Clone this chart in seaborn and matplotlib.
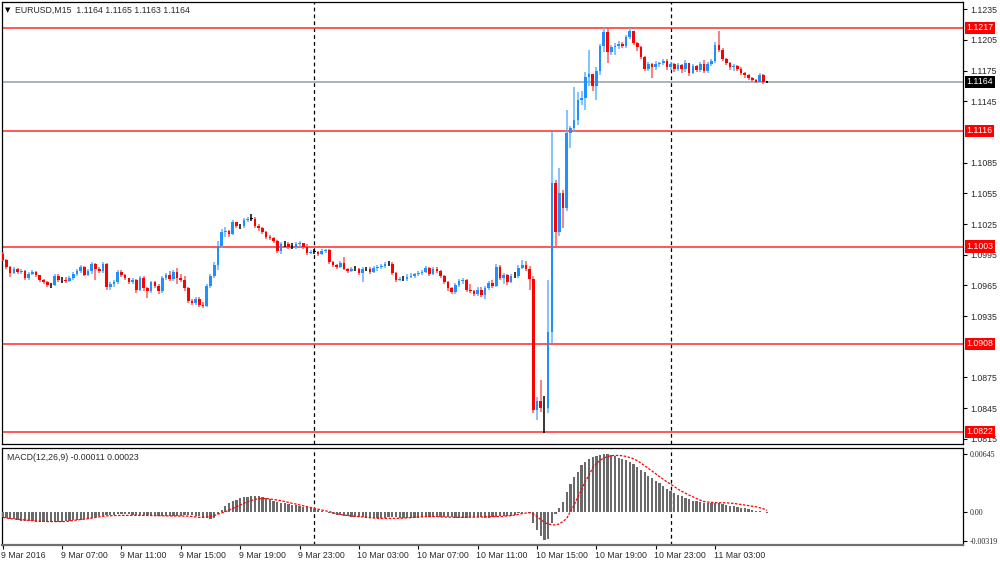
import seaborn as sns
import pandas as pd
import numpy as np
import matplotlib.pyplot as plt
import matplotlib.transforms as mtransforms

# EURUSD M15 candles, 9 Mar 03:00 -> 11 Mar 06:30
first_open = 1.0996
closes = [
    1.0990, 1.0983, 1.0977, 1.0981, 1.0978, 1.0979, 1.0972, 1.0976, 1.0978, 1.0975,
    1.0970, 1.0968, 1.0965, 1.0965, 1.0974, 1.0970, 1.0970, 1.0969, 1.0972, 1.0976,
    1.0979, 1.0983, 1.0975, 1.0979, 1.0986, 1.0981, 1.0979, 1.0986, 1.0963, 1.0966,
    1.0968, 1.0978, 1.0975, 1.0972, 1.0968, 1.0970, 1.0961, 1.0972, 1.0962, 1.0960,
    1.0968, 1.0964, 1.0960, 1.0972, 1.0975, 1.0971, 1.0978, 1.0972, 1.0970, 1.0962,
    1.0950, 1.0948, 1.0952, 1.0946, 1.0945, 1.0964, 1.0974, 1.0985, 1.1004, 1.1017,
    1.1018, 1.1015, 1.1027, 1.1023, 1.1023, 1.1029, 1.1030, 1.1030, 1.1023, 1.1021,
    1.1017, 1.1012, 1.1011, 1.1008, 1.0999, 1.1005, 1.1005, 1.1003, 1.1003, 1.1005,
    1.1006, 1.1003, 1.0997, 1.0998, 1.0998, 1.0996, 1.0999, 1.1000, 1.0988, 1.0985,
    1.0983, 1.0987, 1.0981, 1.0979, 1.0981, 1.0981, 1.0977, 1.0981, 1.0981, 1.0978,
    1.0982, 1.0983, 1.0984, 1.0986, 1.0986, 1.0977, 1.0970, 1.0971, 1.0971, 1.0973,
    1.0974, 1.0976, 1.0977, 1.0978, 1.0982, 1.0976, 1.0981, 1.0979, 1.0974, 1.0968,
    1.0962, 1.0959, 1.0965, 1.0969, 1.0970, 1.0961, 1.0960, 1.0957, 1.0961, 1.0956,
    1.0962, 1.0967, 1.0964, 1.0983, 1.0972, 1.0975, 1.0968, 1.0974, 1.0974, 1.0982,
    1.0985, 1.0981, 1.0971, 1.0843, 1.0852, 1.0845, 1.0845, 1.0919, 1.1065, 1.1017,
    1.1055, 1.1041, 1.1114, 1.1119, 1.1127, 1.1146, 1.1148, 1.1169, 1.1172, 1.1160,
    1.1175, 1.1199, 1.1213, 1.1193, 1.1198, 1.1199, 1.1201, 1.1199, 1.1208, 1.1214,
    1.1202, 1.1198, 1.1188, 1.1177, 1.1181, 1.1178, 1.1181, 1.1182, 1.1184, 1.1178,
    1.1181, 1.1177, 1.1180, 1.1177, 1.1182, 1.1173, 1.1179, 1.1176, 1.1181, 1.1175,
    1.1181, 1.1184, 1.1200, 1.1195, 1.1186, 1.1182, 1.1178, 1.1179, 1.1177, 1.1173,
    1.1171, 1.1168, 1.1166, 1.1164, 1.1171, 1.1164, 1.1164,
]
highs = [
    1.0998, 1.0991, 1.0984, 1.0983, 1.0982, 1.0981, 1.0980, 1.0978, 1.0980, 1.0979,
    1.0975, 1.0971, 1.0969, 1.0967, 1.0976, 1.0976, 1.0973, 1.0973, 1.0974, 1.0978,
    1.0981, 1.0985, 1.0984, 1.0981, 1.0988, 1.0987, 1.0983, 1.0988, 1.0987, 1.0968,
    1.0970, 1.0980, 1.0980, 1.0976, 1.0972, 1.0972, 1.0971, 1.0974, 1.0974, 1.0963,
    1.0969, 1.0969, 1.0966, 1.0974, 1.0977, 1.0979, 1.0980, 1.0982, 1.0976, 1.0974,
    1.0963, 1.0952, 1.0954, 1.0954, 1.0949, 1.0966, 1.0976, 1.0988, 1.1008, 1.1020,
    1.1022, 1.1019, 1.1029, 1.1027, 1.1025, 1.1031, 1.1032, 1.1035, 1.1032, 1.1025,
    1.1022, 1.1018, 1.1014, 1.1012, 1.1009, 1.1007, 1.1008, 1.1007, 1.1006, 1.1007,
    1.1008, 1.1005, 1.1005, 1.1000, 1.1001, 1.0999, 1.1001, 1.1001, 1.1001, 1.0989,
    1.0986, 1.0989, 1.0993, 1.0982, 1.0983, 1.0984, 1.0982, 1.0983, 1.0983, 1.0983,
    1.0984, 1.0985, 1.0986, 1.0988, 1.0989, 1.0988, 1.0978, 1.0973, 1.0974, 1.0976,
    1.0977, 1.0977, 1.0979, 1.0980, 1.0984, 1.0983, 1.0983, 1.0983, 1.0980, 1.0975,
    1.0969, 1.0963, 1.0967, 1.0971, 1.0972, 1.0971, 1.0966, 1.0961, 1.0963, 1.0963,
    1.0964, 1.0969, 1.0970, 1.0986, 1.0985, 1.0977, 1.0976, 1.0976, 1.0978, 1.0985,
    1.0990, 1.0989, 1.0984, 1.0974, 1.0856, 1.0873, 1.0857, 1.0970, 1.1115, 1.1068,
    1.1080, 1.1058, 1.1136, 1.1121, 1.1159, 1.1154, 1.1155, 1.1174, 1.1195, 1.1172,
    1.1178, 1.1201, 1.1218, 1.1218, 1.1200, 1.1202, 1.1204, 1.1203, 1.1210, 1.1217,
    1.1214, 1.1203, 1.1199, 1.1189, 1.1183, 1.1182, 1.1184, 1.1183, 1.1186, 1.1186,
    1.1183, 1.1182, 1.1182, 1.1181, 1.1185, 1.1178, 1.1181, 1.1180, 1.1183, 1.1185,
    1.1183, 1.1186, 1.1203, 1.1214, 1.1197, 1.1187, 1.1183, 1.1181, 1.1180, 1.1178,
    1.1174, 1.1172, 1.1169, 1.1167, 1.1173, 1.1172, 1.1165,
]
lows = [
    1.0989, 1.0981, 1.0973, 1.0976, 1.0976, 1.0976, 1.0970, 1.0970, 1.0975, 1.0973,
    1.0968, 1.0966, 1.0963, 1.0962, 1.0964, 1.0968, 1.0967, 1.0967, 1.0968, 1.0970,
    1.0974, 1.0977, 1.0974, 1.0974, 1.0976, 1.0970, 1.0977, 1.0977, 1.0961, 1.0961,
    1.0963, 1.0966, 1.0973, 1.0970, 1.0966, 1.0966, 1.0958, 1.0960, 1.0960, 1.0953,
    1.0958, 1.0962, 1.0957, 1.0958, 1.0970, 1.0969, 1.0969, 1.0966, 1.0968, 1.0960,
    1.0948, 1.0946, 1.0946, 1.0944, 1.0943, 1.0944, 1.0962, 1.0972, 1.0980, 1.1002,
    1.1012, 1.1012, 1.1014, 1.1021, 1.1020, 1.1021, 1.1027, 1.1028, 1.1021, 1.1018,
    1.1015, 1.1010, 1.1009, 1.1006, 1.0997, 1.0996, 1.1003, 1.1001, 1.1001, 1.1001,
    1.1003, 1.1001, 1.0995, 1.0996, 1.0996, 1.0994, 1.0995, 1.0997, 1.0986, 1.0983,
    1.0981, 1.0982, 1.0980, 1.0977, 1.0978, 1.0979, 1.0975, 1.0968, 1.0979, 1.0976,
    1.0977, 1.0979, 1.0981, 1.0982, 1.0984, 1.0975, 1.0968, 1.0969, 1.0969, 1.0969,
    1.0972, 1.0972, 1.0974, 1.0975, 1.0977, 1.0974, 1.0975, 1.0977, 1.0972, 1.0966,
    1.0960, 1.0957, 1.0957, 1.0963, 1.0966, 1.0959, 1.0958, 1.0955, 1.0955, 1.0954,
    1.0952, 1.0961, 1.0962, 1.0963, 1.0970, 1.0966, 1.0965, 1.0967, 1.0972, 1.0972,
    1.0981, 1.0979, 1.0961, 1.0840, 1.0833, 1.0841, 1.0821, 1.0840, 1.0909, 1.1003,
    1.1013, 1.1021, 1.1038, 1.1099, 1.1115, 1.1122, 1.1141, 1.1136, 1.1160, 1.1155,
    1.1146, 1.1171, 1.1193, 1.1182, 1.1190, 1.1190, 1.1196, 1.1197, 1.1197, 1.1206,
    1.1200, 1.1194, 1.1186, 1.1175, 1.1175, 1.1168, 1.1176, 1.1178, 1.1180, 1.1176,
    1.1176, 1.1174, 1.1175, 1.1173, 1.1174, 1.1170, 1.1172, 1.1174, 1.1174, 1.1173,
    1.1173, 1.1179, 1.1182, 1.1193, 1.1184, 1.1180, 1.1176, 1.1175, 1.1175, 1.1171,
    1.1168, 1.1166, 1.1164, 1.1163, 1.1164, 1.1162, 1.1163,
]

# MACD(12,26,9): histogram and signal, in units of 1e-5
macd_main = [
    -55, -62, -70, -78, -85, -90, -95, -98, -100, -102, -104, -105, -106, -106, -105, -104, -103, -100,
    -92, -88, -84, -80, -75, -68, -60, -52, -45, -38,
    -30, -28, -25, -22, -20, -20, -22, -24, -25, -26, -28,
    -32, -34, -36, -38, -38, -40, -40, -38, -36, -35,
    -33, -30, -32, -38, -45, -55, -65, -70, -60, -20,
    30, 70, 100, 125, 140, 155, 165, 172, 180, 183, 180, 175,
    160, 145, 130, 115, 105, 98, 92, 85, 78, 70, 62, 55, 45, 35,
    25, 15, 5, -5, -15,
    -25, -32, -38, -42, -46, -50, -52, -55, -58, -58, -60, -60, -58, -58, -56, -55, -55,
    -58, -60, -62, -62, -60, -58, -56, -55, -55,
    -56, -55, -54, -54, -55, -56, -58, -60, -60, -58,
    -56, -55, -55, -56, -57, -58, -56, -52, -45, -40,
    -38, -35, -30, -10, -3, 5, -5,
    -113, -200, -265, -305, -290, -120, -18,
    45, 115, 225, 315, 385, 450, 520, 560, 590, 610,
    625, 638, 645, 640, 628, 618, 605, 592, 578, 555,
    528, 495, 465, 440, 405, 375, 350, 320, 290, 262,
    240, 215, 196, 178, 158, 145, 130, 120, 110, 100,
    105, 105, 105, 100, 92, 85, 75, 68, 58, 52,
    45, 38, 25, 18, 10, 3, -11,
]
macd_signal = [
    -55, -62, -69, -73, -77, -82, -86, -90, -93, -96,
    -98, -100, -101, -102, -102, -102, -102, -101, -96, -90,
    -84, -80, -75, -70, -63, -56, -48, -43, -39, -37,
    -35, -34, -33, -33, -33, -33, -33, -33, -33, -34,
    -35, -36, -37, -38, -39, -40, -40, -40, -40, -40,
    -41, -45, -50, -55, -55, -52, -45, -35, -20, -6,
    6, 25, 44, 62, 80, 100, 117, 132, 142, 150,
    153, 153, 148, 142, 136, 128, 120, 110, 100, 92,
    82, 73, 63, 53, 44, 35, 25, 16, 8, -4,
    -14, -24, -30, -35, -40, -43, -46, -50, -55, -58,
    -62, -66, -66, -66, -66, -66, -66, -66, -63, -60,
    -57, -54, -51, -49, -47, -47, -47, -48, -50, -52,
    -53, -54, -55, -55, -55, -55, -54, -53, -52, -51,
    -50, -49, -48, -47, -47, -44, -40, -35, -30, -22,
    -14, -8, -4, -18, -45, -80, -110, -128, -138, -138,
    -128, -100, -66, 10, 80, 170, 250, 340, 410, 490,
    540, 573, 600, 615, 625, 628, 628, 624, 617, 605,
    591, 570, 545, 515, 485, 455, 425, 395, 365, 336,
    310, 285, 255, 232, 212, 190, 172, 152, 135, 120,
    114, 110, 108, 106, 106, 105, 102, 99, 93, 87,
    81, 76, 70, 62, 51, 40, 23,
]

time_ticks = [0, 16, 32, 48, 64, 80, 96, 112, 128, 144, 160, 176, 192]
time_labels = ["9 Mar 2016", "9 Mar 07:00", "9 Mar 11:00", "9 Mar 15:00", "9 Mar 19:00",
               "9 Mar 23:00", "10 Mar 03:00", "10 Mar 07:00", "10 Mar 11:00",
               "10 Mar 15:00", "10 Mar 19:00", "10 Mar 23:00", "11 Mar 03:00"]
day_breaks = [84, 180]
price_ticks = [1.1235, 1.1205, 1.1175, 1.1145, 1.1085, 1.1055, 1.1025,
               1.0995, 1.0965, 1.0935, 1.0875, 1.0845, 1.0815]
levels = [1.1217, 1.1116, 1.1003, 1.0908, 1.0822]
bid = 1.1164
macd_ticks = [0.00645, 0.0, -0.00319]
macd_tick_labels = ["0.00645", "0.00", "-0.00319"]

assert len(closes) == len(highs) == len(lows) == len(macd_main) == len(macd_signal)

df = pd.DataFrame({"close": closes, "high": highs, "low": lows,
                   "hist": np.array(macd_main) * 1e-5,
                   "signal": np.array(macd_signal) * 1e-5})
df["open"] = [first_open] + closes[:-1]
df["i"] = np.arange(len(df))

sns.set_theme(style="white")
plt.rcParams["font.family"] = ["Liberation Sans", "DejaVu Sans"]
FS = 6.3
TXT = "#2a2a2a"

fig = plt.figure(figsize=(10, 5.64), dpi=100)
ax = fig.add_axes([0.002, 1 - 444 / 564, 0.961, 442 / 564])
ax2 = fig.add_axes([0.002, 1 - 545 / 564, 0.961, 97 / 564])
xlim = (-0.19, 258.8)

# candles
up = df["close"] > df["open"]
down = df["close"] < df["open"]
body_col = np.where(up, "#1e90ff", np.where(down, "#ff0000", "#000000"))
wick_col = np.where(up, "#62b1ff", np.where(down, "#ff5a5a", "#000000"))
hi = np.maximum(df["high"], np.maximum(df["open"], df["close"]))
lo = np.minimum(df["low"], np.minimum(df["open"], df["close"]))
ax.vlines(df["i"], lo, hi, colors=wick_col, lw=1.1, zorder=3)
bottom = np.minimum(df["open"], df["close"])
height = np.maximum(np.abs(df["close"] - df["open"]), 0.00004)
ax.bar(df["i"], height, bottom=bottom, width=0.72, color=body_col, lw=0, zorder=4)

for lv in levels:
    ax.axhline(lv, color="#ff2a2a", lw=1.1, zorder=2)
    ax.text(1.0035, lv, f"{lv:.4f}", transform=ax.get_yaxis_transform(), ha="left",
            va="center", fontsize=FS, color="white", clip_on=False, zorder=10,
            bbox=dict(boxstyle="square,pad=0.18", fc="#ff0000", ec="none"))
ax.axhline(bid, color="#a3aeb9", lw=1.3, zorder=2)
ax.text(1.0035, bid, f"{bid:.4f}", transform=ax.get_yaxis_transform(), ha="left",
        va="center", fontsize=FS, color="white", clip_on=False, zorder=10,
        bbox=dict(boxstyle="square,pad=0.18", fc="#000000", ec="none"))

ax.set_xlim(*xlim)
ax.set_ylim(1.0810, 1.1242)
ax.yaxis.tick_right()
ax.set_yticks(price_ticks)
ax.set_yticklabels([f"{t:.4f}" for t in price_ticks])
ax.set_xticks([])
ax.tick_params(axis="y", right=True, length=3, width=0.8, pad=2, labelsize=FS,
               labelcolor=TXT, color="black")

# MACD panel
ax2.bar(df["i"], df["hist"], width=0.6, color="#6a6a6a", lw=0, zorder=3)
sns.lineplot(data=df, x="i", y="signal", ax=ax2, color="#ff0000", lw=0.9,
             linestyle=(0, (2, 1.2)), zorder=4)
ax2.set_xlim(*xlim)
ax2.set_ylim(-0.0036, 0.0071)
ax2.yaxis.tick_right()
ax2.set_yticks(macd_ticks)
ax2.set_yticklabels(macd_tick_labels, family="Liberation Serif")
ax2.tick_params(axis="y", right=True, length=3, width=0.8, pad=2, labelsize=5.8,
                labelcolor=TXT, color="black")
ax2.set_xticks(time_ticks)
ax2.set_xticklabels(time_labels)
ax2.tick_params(axis="x", bottom=True, length=3, width=0.8, pad=1.5, labelsize=FS,
                labelcolor=TXT, color="black")
shift = mtransforms.ScaledTranslation(-1.5 / 100, 0, fig.dpi_scale_trans)
for lab in ax2.get_xticklabels():
    lab.set_horizontalalignment("left")
    lab.set_transform(lab.get_transform() + shift)
ax2.set_xlabel("")
ax2.set_ylabel("")

for a in (ax, ax2):
    for d in day_breaks:
        a.axvline(d, color="black", lw=0.9, linestyle=(0, (3, 2.5)), zorder=1)
    for s in a.spines.values():
        s.set_color("black")
        s.set_linewidth(0.9)
    a.grid(False)
ax2.spines["bottom"].set_color("#707070")
ax2.spines["bottom"].set_linewidth(1.6)

fig.text(0.005, 1 - 10 / 564, "\u25bc", fontsize=5, color="black", va="center",
         family="DejaVu Sans")
fig.text(0.015, 1 - 10 / 564, "EURUSD,M15  1.1164 1.1165 1.1163 1.1164", fontsize=FS,
         color=TXT, va="center")
fig.text(0.007, 1 - 457 / 564, "MACD(12,26,9) -0.00011 0.00023", fontsize=FS,
         color=TXT, va="center")

fig.savefig("out.png", dpi=100)
